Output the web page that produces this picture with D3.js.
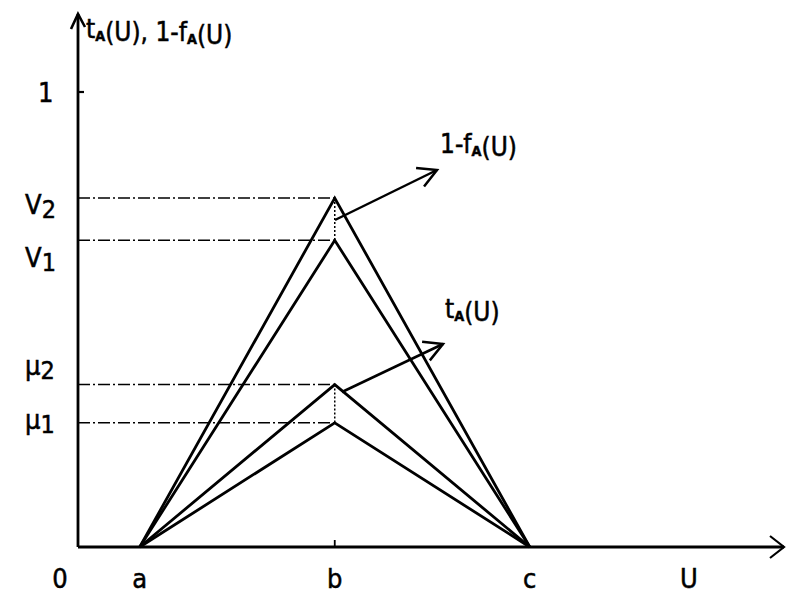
<!DOCTYPE html>
<html>
<head>
<meta charset="utf-8">
<script src="https://cdn.jsdelivr.net/npm/d3@7"></script>
<style>
  body { margin: 0; background: #fff; }
  svg text { font-family: "Liberation Sans Narrow", "DejaVu Sans Condensed", "Liberation Sans", sans-serif; fill: #000; stroke: #000; stroke-width: 0.5px; }
</style>
</head>
<body>
<svg id="chart" width="787" height="602"></svg>
<script>
// x positions along U (a, b, c) and the axis labels under them
var xLabels = ["0", "a", "b", "c", "U"];
var xValues = [0, 0.95, 3.95, 6.95, 9.4];

// peak heights at b for the four triangles
var peakNames = ["V2", "V1", "μ2", "μ1"];
var peakValues = [0.767, 0.674, 0.357, 0.273];

// pairs joined by the dotted segment at b
var pairs = [[0, 1], [2, 3]];

var width = 787, height = 602;
var svg = d3.select("#chart");

var x = d3.scaleLinear().domain([0, 10]).range([78, 728]);
var y = d3.scaleLinear().domain([0, 1]).range([547, 92]);

var aX = xValues[1], bX = xValues[2], cX = xValues[3];

// label nudges (px) so the names sit like in the drawing
var labelDy = [7, 18, -19, -3];

// --- axes ---
svg.append("line")
    .attr("x1", x(0)).attr("y1", y(0))
    .attr("x2", x(0)).attr("y2", 14)
    .attr("stroke", "#000").attr("stroke-width", 2.8);
svg.append("path")
    .attr("d", "M" + (x(0) - 7) + ",29 L" + x(0) + ",14 L" + (x(0) + 7) + ",27")
    .attr("fill", "none").attr("stroke", "#000").attr("stroke-width", 2.6);

svg.append("line")
    .attr("x1", x(0)).attr("y1", y(0))
    .attr("x2", 784).attr("y2", y(0))
    .attr("stroke", "#000").attr("stroke-width", 2.8);
svg.append("path")
    .attr("d", "M770,536 L784," + y(0) + " L770,558")
    .attr("fill", "none").attr("stroke", "#000").attr("stroke-width", 2.2);

// tick at 1 and tick at b
svg.append("line")
    .attr("x1", x(0)).attr("x2", x(0) + 6)
    .attr("y1", y(1)).attr("y2", y(1))
    .attr("stroke", "#000").attr("stroke-width", 2.2);
svg.append("line")
    .attr("x1", x(bX)).attr("x2", x(bX))
    .attr("y1", y(0) - 7).attr("y2", y(0))
    .attr("stroke", "#000").attr("stroke-width", 1.8);

// --- dash-dot guides from the y axis to the peaks ---
svg.selectAll("line.guide")
    .data(peakValues)
    .enter().append("line")
    .attr("class", "guide")
    .attr("x1", x(0)).attr("x2", x(bX))
    .attr("y1", function(d) { return y(d); })
    .attr("y2", function(d) { return y(d); })
    .attr("stroke", "#000").attr("stroke-width", 1.5)
    .attr("stroke-dasharray", "12,3,2,3");

// dotted verticals between peaks
svg.selectAll("line.dots")
    .data(pairs)
    .enter().append("line")
    .attr("class", "dots")
    .attr("x1", x(bX)).attr("x2", x(bX))
    .attr("y1", function(d) { return y(peakValues[d[0]]); })
    .attr("y2", function(d) { return y(peakValues[d[1]]); })
    .attr("stroke", "#000").attr("stroke-width", 1.5)
    .attr("stroke-dasharray", "2,2");

// --- triangles ---
var line = d3.line()
    .x(function(d) { return x(d[0]); })
    .y(function(d) { return y(d[1]); });

svg.selectAll("path.tri")
    .data(peakValues)
    .enter().append("path")
    .attr("class", "tri")
    .attr("d", function(v) { return line([[aX, 0], [bX, v], [cX, 0]]); })
    .attr("fill", "none").attr("stroke", "#000")
    .attr("stroke-width", 2.8).attr("stroke-linejoin", "miter");

// --- y labels ---
svg.append("text")
    .attr("x", 38).attr("y", y(1) + 10)
    .style("font-size", "27px").text("1");

peakNames.forEach(function(name, i) {
    var t = svg.append("text")
        .attr("x", 25)
        .attr("y", y(peakValues[i]) + labelDy[i] + 9)
        .style("font-size", "27px");
    t.append("tspan").text(name.charAt(0));
    t.append("tspan").attr("dy", 4).style("font-size", "25px").text(name.charAt(1));
});

// --- x labels ---
svg.selectAll("text.xl")
    .data(xLabels)
    .enter().append("text")
    .attr("class", "xl")
    .attr("x", function(d, i) { return x(xValues[i]); })
    .attr("y", 588)
    .attr("text-anchor", "middle")
    .style("font-size", "27px")
    .text(function(d) { return d; })
    .attr("dx", function(d, i) { return i === 0 ? -18 : 0; });

// axis title and curve labels with subscript A
function subLabel(x0, y0, parts, size) {
    var t = svg.append("text").attr("x", x0).attr("y", y0).style("font-size", size + "px");
    parts.forEach(function(p) {
        if (p.sub) {
            t.append("tspan").attr("dy", 3).style("font-size", (size * 0.55) + "px").style("font-weight", "bold").text(p.s);
            t.append("tspan").attr("dy", -3).text("");
        } else {
            t.append("tspan").text(p.s);
        }
    });
    return t;
}

subLabel(86, 38, [{s: "t"}, {s: "A", sub: true}, {s: "(U), 1-f"}, {s: "A", sub: true}, {s: "(U)"}], 26);
subLabel(440, 153, [{s: "1-f"}, {s: "A", sub: true}, {s: "(U)"}], 26);
subLabel(445, 318, [{s: "t"}, {s: "A", sub: true}, {s: "(U)"}], 26);

// --- pointer arrows ---
var arrows = [
    {from: [335, 220], to: [437, 170]},
    {from: [342, 392], to: [443, 344]}
];
arrows.forEach(function(a) {
    svg.append("line")
        .attr("x1", a.from[0]).attr("y1", a.from[1])
        .attr("x2", a.to[0]).attr("y2", a.to[1])
        .attr("stroke", "#000").attr("stroke-width", 2.5);
    var ang = Math.atan2(a.to[1] - a.from[1], a.to[0] - a.from[0]);
    var len = 21;
    var p1 = [a.to[0] - len * Math.cos(ang - 0.45), a.to[1] - len * Math.sin(ang - 0.45)];
    var p2 = [a.to[0] - len * Math.cos(ang + 0.55), a.to[1] - len * Math.sin(ang + 0.55)];
    svg.append("path")
        .attr("d", "M" + p1 + " L" + a.to + " L" + p2)
        .attr("fill", "none").attr("stroke", "#000").attr("stroke-width", 2.5);
});
</script>
</body>
</html>
